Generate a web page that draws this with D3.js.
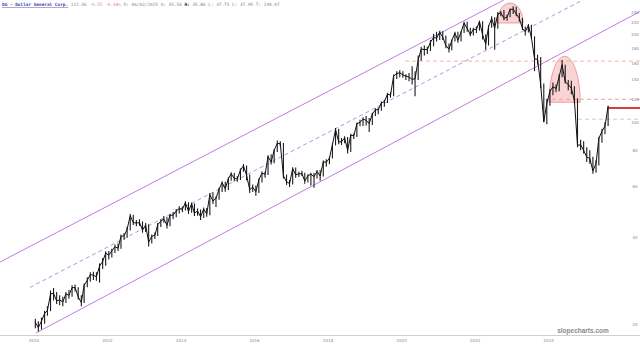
<!DOCTYPE html>
<html><head><meta charset="utf-8">
<script src="https://cdn.jsdelivr.net/npm/d3@7/dist/d3.min.js"></script>
<style>body{margin:0;background:#fff}svg{display:block}</style>
</head><body>
<svg id="chart" width="640" height="347"></svg>
<script>
// ---- data (monthly close / low / high) ----
const firstMonth = "2009-11";
const closes = [
  20.4, 19.6,
  20.6, 21.9, 22.4, 25.6, 25.7, 24.2, 24.4, 24.0, 25.6, 25.3, 26.9, 26.9,
  25.0, 23.9, 27.4, 28.5, 29.8, 29.7, 29.3, 31.9, 33.1, 35.4, 34.8, 36.0,
  37.2, 36.8, 40.4, 40.6, 42.8, 47.6, 45.1, 44.9, 45.1, 42.5, 44.2, 38.6,
  40.4, 40.8, 44.3, 45.6, 46.4, 44.1, 47.8, 47.8, 49.4, 50.4, 50.1, 52.8,
  49.3, 52.3, 48.6, 49.4, 47.2, 50.2, 48.3, 56.3, 53.5, 54.7, 58.8, 61.9,
  59.0, 63.9, 66.4, 64.0, 63.8, 68.4, 70.8, 65.6, 58.6, 59.7, 57.6, 63.3,
  66.8, 66.1, 76.2, 72.9, 80.0, 84.6, 84.3, 65.4, 62.3, 61.5, 69.2, 65.9,
  66.4, 66.5, 62.7, 65.4, 66.2, 64.9, 67.7, 65.3, 73.0, 72.8, 75.1, 83.7,
  94.3, 85.6, 85.6, 88.3, 80.0, 90.2, 89.8, 98.7, 100.0, 102.5, 101.6, 98.9,
  106.7, 110.5, 110.4, 116.6, 117.8, 125.1, 124.0, 144.5, 147.0, 148.3, 145.6, 144.3,
  143.1, 140.6, 141.2, 163.9, 178.9, 178.1, 178.0, 188.8, 196.0, 195.1, 204.4, 196.6,
  183.9, 178.6, 191.5, 202.9, 191.8, 204.5, 219.9, 210.6, 200.4, 209.3, 208.9, 222.8,
  200.2, 186.1, 213.7, 228.0, 211.5, 235.7, 238.8, 228.0, 230.6, 244.9, 245.5, 236.4,
  228.1, 210.9, 205.2, 215.9, 196.1, 165.6, 164.7, 135.0, 100.4, 116.0, 127.7, 132.6,
  130.7, 143.6, 158.0, 137.6, 135.1, 130.9, 119.2, 83.2, 83.7, 80.0, 75.8, 75.0,
  68.0, 72.0, 87.9, 93.2, 97.0, 113.4
];
const lows = [
  19.5, 19.0,
  19.3, 20.2, 21.5, 22.3, 24.3, 23.6, 23.4, 23.2, 23.8, 24.6, 25.0, 26.1,
  24.5, 23.2, 23.8, 27.0, 28.2, 28.6, 28.4, 28.0, 31.2, 32.0, 33.6, 34.2,
  35.4, 36.0, 36.6, 39.3, 40.0, 42.3, 44.2, 43.8, 43.9, 41.6, 41.8, 37.3,
  38.2, 39.6, 40.5, 43.5, 45.0, 43.0, 43.8, 46.3, 47.0, 48.5, 48.9, 49.6,
  48.3, 48.7, 47.5, 47.6, 46.0, 46.8, 47.2, 47.8, 52.2, 51.0, 54.0, 57.5,
  57.6, 58.4, 62.8, 62.6, 62.4, 63.2, 67.5, 63.0, 57.0, 57.5, 55.8, 57.0,
  62.0, 64.3, 65.8, 71.5, 72.2, 79.0, 82.5, 64.0, 60.8, 59.8, 61.0, 64.3,
  64.8, 65.2, 61.4, 62.0, 60.5, 59.5, 64.0, 62.8, 65.0, 70.2, 71.6, 75.0,
  83.2, 84.0, 83.5, 84.6, 78.0, 79.0, 87.5, 89.0, 96.8, 97.0, 97.5, 92.5,
  97.8, 105.0, 106.5, 109.6, 113.0, 116.5, 121.5, 123.0, 141.0, 143.0, 142.5, 140.0,
  138.5, 135.0, 123.0, 140.0, 163.0, 170.0, 172.0, 176.0, 183.0, 190.0, 192.0, 192.0,
  180.0, 174.0, 177.0, 190.0, 188.0, 190.0, 203.0, 205.0, 198.0, 199.0, 203.0, 207.0,
  193.0, 178.0, 184.0, 212.0, 178.0, 210.0, 232.0, 225.0, 224.0, 230.0, 236.0, 232.0,
  222.0, 208.0, 199.0, 204.0, 194.0, 150.0, 158.0, 131.0, 100.0, 98.5, 114.0, 124.0,
  127.0, 128.0, 143.0, 136.0, 129.0, 125.0, 116.0, 82.0, 80.0, 78.0, 73.0, 72.0,
  66.5, 67.0, 71.0, 85.0, 91.0, 97.0
];
const highs = [
  21.0, 20.6,
  21.2, 22.4, 23.2, 26.3, 26.8, 26.0, 25.3, 25.0, 26.0, 26.4, 27.4, 27.6,
  27.0, 25.3, 27.8, 29.2, 30.4, 30.5, 30.4, 32.6, 34.0, 35.9, 36.0, 36.6,
  37.9, 38.2, 41.0, 41.5, 43.6, 48.3, 48.0, 46.0, 46.3, 45.5, 44.9, 44.5,
  41.0, 41.7, 44.9, 46.3, 47.5, 47.0, 48.4, 49.0, 50.2, 51.3, 51.2, 53.4,
  53.0, 52.9, 52.5, 50.4, 50.0, 50.8, 50.6, 57.0, 57.2, 55.5, 59.5, 62.6,
  62.4, 64.6, 67.2, 66.8, 65.2, 69.2, 71.8, 71.0, 66.0, 61.0, 60.5, 64.0,
  67.6, 67.5, 77.0, 77.5, 80.8, 86.5, 86.0, 84.8, 66.0, 63.2, 70.0, 69.8,
  67.5, 68.0, 67.0, 66.2, 67.0, 66.8, 68.5, 68.4, 73.8, 74.5, 76.0, 84.6,
  95.5, 95.0, 88.2, 89.5, 89.0, 91.2, 91.5, 99.8, 102.0, 104.0, 105.0, 103.5,
  107.8, 111.8, 112.5, 117.8, 119.5, 126.3, 127.0, 146.0, 150.0, 151.0, 150.0, 146.5,
  148.0, 156.0, 150.0, 170.0, 182.0, 184.0, 182.0, 192.0, 202.0, 205.0, 207.0, 206.0,
  199.0, 187.0, 193.0, 205.0, 205.0, 206.0, 222.0, 222.0, 212.0, 212.0, 214.0, 224.0,
  223.0, 201.0, 216.0, 232.0, 230.0, 240.0, 242.0, 244.0, 235.0, 247.0, 251.0, 250.0,
  238.0, 229.0, 214.0, 218.0, 217.0, 198.0, 171.0, 168.0, 136.0, 120.0, 130.0, 137.0,
  135.0, 146.0, 164.0, 158.0, 140.0, 139.0, 133.0, 121.0, 87.0, 86.0, 82.0, 80.0,
  76.0, 74.0, 89.0, 95.0, 100.0, 114.0
];

const yTickValues = [20, 40, 60, 80, 100, 120, 140, 160, 180, 200, 220, 240];
const xTickYears = [2010, 2012, 2014, 2016, 2018, 2020, 2022, 2024];
const channelUpper = [["2008-11-29", 32.96], ["2022-08-14", 264]];
const channelMid   = [["2009-09-23", 26.94], ["2024-10-07", 264]];
const channelLower = [["2009-11-21", 18.76], ["2026-04-28", 240.9]];
const domes = [
  {from: "2022-06-08", to: "2023-02-22", base: 220, top: 257.6},
  {from: "2023-11-06", to: "2024-09-11", base: 117.3, top: 169}
];
const levels = [
  {from: "2019-12-06", value: 162.5, color: "#eba98c", dash: "4,3", width: 0.8},
  {from: "2023-09-27", value: 120,   color: "#e48f8f", dash: "4,3", width: 0.8},
  {from: "2024-08-21", value: 102.5, color: "#9fd49f", dash: "4,3", width: 0.8},
  {from: "2025-06-17", value: 112,   color: "#d42a2a", dash: null,  width: 1.8}
];

// ---- layout ----
const W = 640, H = 347;
const svg = d3.select("#chart");
const parse = d3.timeParse("%Y-%m-%d");
const x = d3.scaleTime().domain([new Date(2008, 10, 29), new Date(2026, 3, 28)]).range([0, W]);
const y = d3.scaleLog().domain([18.76, 264]).range([333, 0]);

const start = d3.timeParse("%Y-%m")(firstMonth);
const series = closes.map((v, i) => ({
  date: d3.timeDay.offset(d3.timeMonth.offset(start, i), 14),
  value: v, lo: lows[i], hi: highs[i]
}));

svg.append("defs").append("clipPath").attr("id", "clip")
  .append("rect").attr("x", 0).attr("y", 0).attr("width", W).attr("height", 334);
const plot = svg.append("g").attr("clip-path", "url(#clip)");

// domes
plot.selectAll("path.dome").data(domes).join("path")
  .attr("class", "dome")
  .attr("d", d => {
    const x0 = x(parse(d.from)), x1 = x(parse(d.to)), yb = y(d.base), yt = y(d.top);
    const rx = (x1 - x0) / 2, ry = yb - yt;
    return `M${x0},${yb} A${rx},${ry} 0 0 1 ${x1},${yb} Z`;
  })
  .attr("fill", "#f4a0a0").attr("fill-opacity", 0.45)
  .attr("stroke", "#e58a8a").attr("stroke-width", 0.8);

// channel lines
const chan = d3.line().x(d => x(parse(d[0]))).y(d => y(d[1]));
plot.append("path").attr("d", chan(channelUpper)).attr("fill", "none").attr("stroke", "#c27ae0").attr("stroke-width", 1);
plot.append("path").attr("d", chan(channelLower)).attr("fill", "none").attr("stroke", "#c27ae0").attr("stroke-width", 1);
plot.append("path").attr("d", chan(channelMid)).attr("fill", "none").attr("stroke", "#9a78d8").attr("stroke-width", 0.8).attr("stroke-dasharray", "4,3");

// horizontal levels
plot.selectAll("line.level").data(levels).join("line")
  .attr("class", "level")
  .attr("x1", d => x(parse(d.from))).attr("x2", W)
  .attr("y1", d => y(d.value)).attr("y2", d => y(d.value))
  .attr("stroke", d => d.color).attr("stroke-width", d => d.width)
  .attr("stroke-dasharray", d => d.dash);

// price: monthly range ticks + close line
plot.selectAll("line.rng").data(series).join("line")
  .attr("class", "rng")
  .attr("x1", d => x(d.date)).attr("x2", d => x(d.date))
  .attr("y1", d => y(d.lo)).attr("y2", d => y(d.hi))
  .attr("stroke", "#1a1a1a").attr("stroke-width", 1.1);
plot.append("path").datum(series)
  .attr("d", d3.line().x(d => x(d.date)).y(d => y(d.value)))
  .attr("fill", "none").attr("stroke", "#111").attr("stroke-width", 1).attr("stroke-linejoin", "round");

// x axis line + labels
svg.append("line").attr("x1", 0).attr("x2", W).attr("y1", 335.5).attr("y2", 335.5).attr("stroke", "#d0d0d0").attr("stroke-width", 1);
svg.selectAll("text.xl").data(xTickYears).join("text")
  .attr("class", "xl")
  .attr("x", d => x(new Date(d, 0, 1)) - 6).attr("y", 342)
  .attr("text-anchor", "middle").attr("font-family", "DejaVu Sans").attr("font-size", 4)
  .attr("fill", "#888").text(d => d);

// y labels
svg.selectAll("text.yl").data(yTickValues).join("text")
  .attr("class", "yl")
  .attr("x", 635).attr("y", d => y(d) + 1.5)
  .attr("text-anchor", "middle").attr("font-family", "DejaVu Sans").attr("font-size", 4)
  .attr("fill", "#888").text(d => d);

// watermark
svg.append("text").attr("x", 583).attr("y", 332.5).attr("text-anchor", "middle")
  .attr("font-family", "Liberation Sans").attr("font-weight", "bold").attr("font-size", 6.5)
  .attr("fill", "#8a8a8a").text("slopecharts.com");

// title
const t = svg.append("text").attr("x", 2).attr("y", 6).attr("font-family", "DejaVu Sans Mono").attr("font-size", 4.4);
t.append("tspan").attr("fill", "#3b3bb0").attr("text-decoration", "underline").attr("font-weight", "bold").text("DG - Dollar General Corp.");
t.append("tspan").attr("fill", "#888").text(" 112.36");
t.append("tspan").attr("fill", "#e08a8a").text(" -0.55 -0.48%");
t.append("tspan").attr("fill", "#888").text(" D: 06/02/2025 O: 35.56 ");
t.append("tspan").attr("fill", "#222").attr("font-weight", "bold").text("H:");
t.append("tspan").attr("fill", "#888").text(" 35.86 L: 37.75 C: 37.95 T: 249.97");
</script>
</body></html>
